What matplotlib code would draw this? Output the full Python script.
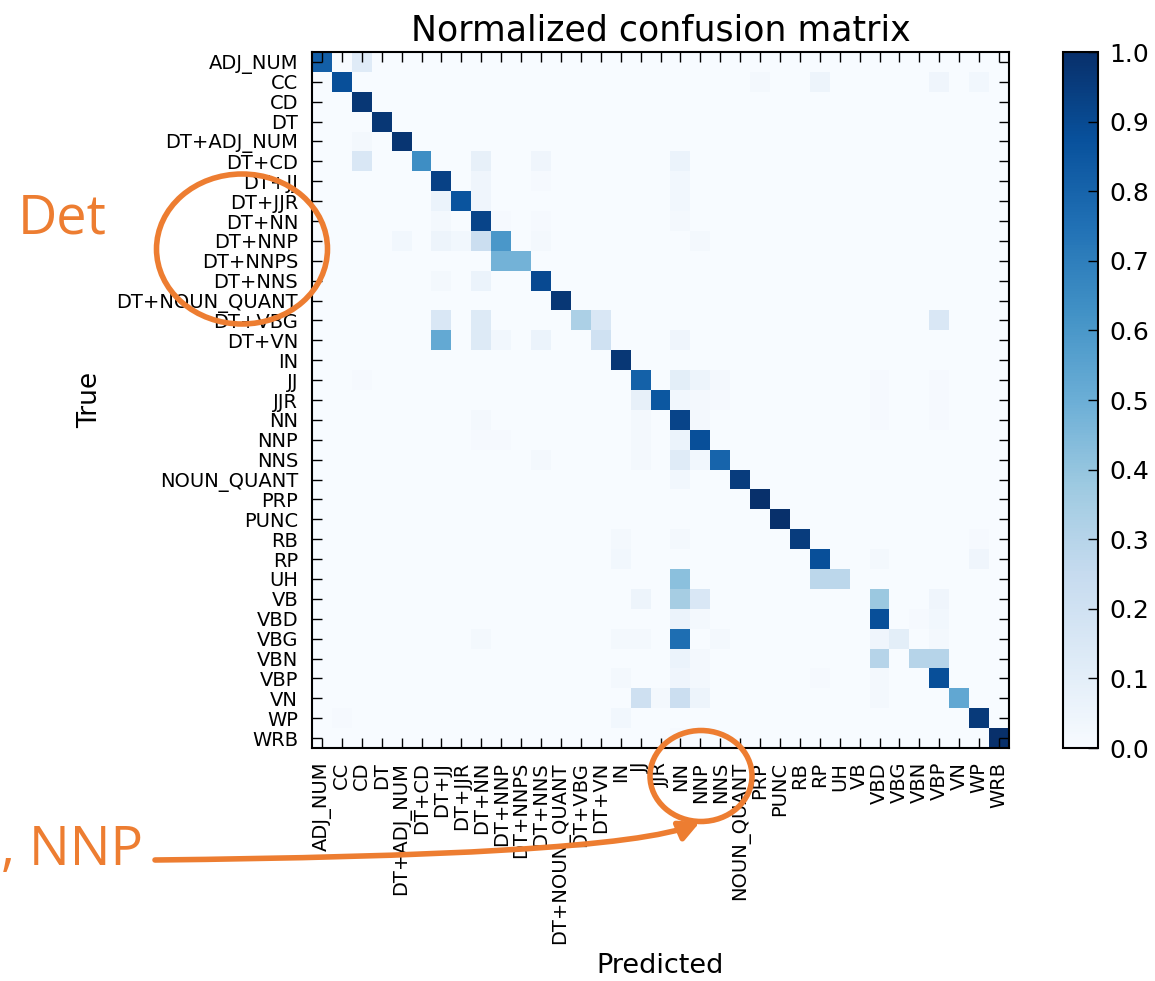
import numpy as np
import matplotlib
matplotlib.use("Agg")
import matplotlib.pyplot as plt
from matplotlib.patches import Ellipse, FancyArrowPatch
from matplotlib.path import Path

# ---------------- data ----------------
classes = ["ADJ_NUM", "CC", "CD", "DT", "DT+ADJ_NUM", "DT+CD", "DT+JJ", "DT+JJR",
           "DT+NN", "DT+NNP", "DT+NNPS", "DT+NNS", "DT+NOUN_QUANT", "DT+VBG", "DT+VN",
           "IN", "JJ", "JJR", "NN", "NNP", "NNS", "NOUN_QUANT", "PRP", "PUNC", "RB",
           "RP", "UH", "VB", "VBD", "VBG", "VBN", "VBP", "VN", "WP", "WRB"]

# normalized rate for each true class -> predicted class (all others are 0)
rates = {
    "ADJ_NUM":       {"ADJ_NUM": 0.82, "CD": 0.12},
    "CC":            {"CC": 0.88, "PRP": 0.02, "RP": 0.05, "VBP": 0.04, "WP": 0.03},
    "CD":            {"CD": 0.97},
    "DT":            {"DT": 0.97},
    "DT+ADJ_NUM":    {"DT+ADJ_NUM": 0.98, "CD": 0.02},
    "DT+CD":         {"DT+CD": 0.64, "CD": 0.15, "DT+NN": 0.08, "DT+NNS": 0.04, "NN": 0.06},
    "DT+JJ":         {"DT+JJ": 0.93, "DT+NN": 0.04, "DT+NNS": 0.01, "NN": 0.03},
    "DT+JJR":        {"DT+JJR": 0.86, "DT+JJ": 0.06, "DT+NN": 0.04, "NN": 0.03},
    "DT+NN":         {"DT+NN": 0.92, "DT+JJ": 0.02, "DT+NNP": 0.01, "DT+NNS": 0.01, "NN": 0.02},
    "DT+NNP":        {"DT+NNP": 0.60, "DT+NN": 0.22, "DT+JJ": 0.05, "DT+JJR": 0.03,
                      "DT+ADJ_NUM": 0.03, "DT+NNS": 0.02, "NNP": 0.02},
    "DT+NNPS":       {"DT+NNP": 0.48, "DT+NNPS": 0.48},
    "DT+NNS":        {"DT+NNS": 0.90, "DT+NN": 0.06, "DT+JJ": 0.02},
    "DT+NOUN_QUANT": {"DT+NOUN_QUANT": 0.97},
    "DT+VBG":        {"DT+VBG": 0.33, "DT+VN": 0.15, "DT+JJ": 0.15, "DT+NN": 0.13, "VBP": 0.15},
    "DT+VN":         {"DT+JJ": 0.52, "DT+NN": 0.13, "DT+NNP": 0.03, "DT+NNS": 0.06,
                      "DT+VN": 0.20, "NN": 0.04},
    "IN":            {"IN": 0.97},
    "JJ":            {"JJ": 0.81, "CD": 0.01, "NN": 0.10, "NNP": 0.05, "NNS": 0.02,
                      "VBD": 0.01, "VBP": 0.01},
    "JJR":           {"JJR": 0.85, "JJ": 0.08, "NN": 0.03, "NNP": 0.02, "NNS": 0.01,
                      "VBD": 0.01, "VBP": 0.01},
    "NN":            {"NN": 0.92, "DT+NN": 0.02, "JJ": 0.02, "NNP": 0.02, "VBD": 0.01, "VBP": 0.01},
    "NNP":           {"NNP": 0.88, "NN": 0.06, "JJ": 0.02, "DT+NN": 0.01, "DT+NNP": 0.01},
    "NNS":           {"NNS": 0.80, "NN": 0.12, "NNP": 0.03, "JJ": 0.02, "DT+NNS": 0.02},
    "NOUN_QUANT":    {"NOUN_QUANT": 0.95, "NN": 0.03},
    "PRP":           {"PRP": 1.00},
    "PUNC":          {"PUNC": 1.00},
    "RB":            {"RB": 0.95, "IN": 0.02, "NN": 0.02, "WP": 0.01},
    "RP":            {"RP": 0.88, "IN": 0.03, "VBD": 0.02, "WP": 0.04},
    "UH":            {"NN": 0.42, "RP": 0.28, "UH": 0.28},
    "VB":            {"NN": 0.35, "NNP": 0.15, "VBD": 0.38, "VBP": 0.04, "JJ": 0.05},
    "VBD":           {"VBD": 0.88, "NN": 0.06, "NNP": 0.02, "VBN": 0.01, "VBP": 0.03},
    "VBG":           {"NN": 0.76, "VBD": 0.04, "VBG": 0.10, "DT+NN": 0.02, "IN": 0.02,
                      "JJ": 0.02, "NNS": 0.02, "VBP": 0.02},
    "VBN":           {"VBD": 0.30, "VBN": 0.30, "VBP": 0.30, "NN": 0.06, "NNP": 0.02},
    "VBP":           {"VBP": 0.88, "NN": 0.04, "NNP": 0.02, "RP": 0.01, "VBD": 0.02, "IN": 0.02},
    "VN":            {"VN": 0.53, "JJ": 0.21, "NN": 0.22, "NNP": 0.05, "JJR": 0.02, "VBD": 0.02},
    "WP":            {"WP": 0.96, "IN": 0.03, "CC": 0.01},
    "WRB":           {"WRB": 1.00, "NN": 0.01},
}

colorbar_ticks = [0.0, 0.1, 0.2, 0.3, 0.4, 0.5, 0.6, 0.7, 0.8, 0.9, 1.0]

title = "Normalized confusion matrix"
x_title = "Predicted"
y_title = "True"
note_det = "Det"
note_nnp = ", NNP"

# ---------------- build matrix ----------------
idx = {c: i for i, c in enumerate(classes)}
n = len(classes)
cm = np.zeros((n, n))
for t, row in rates.items():
    for p, v in row.items():
        cm[idx[t], idx[p]] = v

# ---------------- figure ----------------
W, H = 1155, 981
fig = plt.figure(figsize=(W / 100, H / 100), dpi=100)
plt.rcParams["font.family"] = ["DejaVu Sans"]

ax = fig.add_axes([312 / W, 1 - 748 / H, 697 / W, 696 / H])
im = ax.imshow(cm, cmap="Blues", vmin=0, vmax=1, interpolation="nearest", aspect="auto")
ax.set_xticks(range(n))
ax.set_yticks(range(n))
ax.set_xticklabels(classes, rotation=90)
ax.set_yticklabels(classes)
ax.tick_params(direction="in", top=True, right=True, length=7.5, width=1,
               labelsize=14, pad=10, colors="black")
for s in ax.spines.values():
    s.set_linewidth(1.5)

ax.set_title(title, fontsize=25, pad=8.4)
ax.set_xlabel(x_title, fontsize=19.5)
ax.xaxis.set_label_coords(0.5, -0.2945)
ax.set_ylabel(y_title, fontsize=19)
ax.yaxis.set_label_coords(-0.300, 0.5)

cax = fig.add_axes([1063 / W, 1 - 748 / H, 35 / W, 696 / H])
cb = fig.colorbar(im, cax=cax, ticks=colorbar_ticks)
cb.ax.set_yticklabels([f"{t:.1f}" for t in colorbar_ticks])
cb.ax.tick_params(direction="in", length=7.5, width=1, labelsize=18, pad=8)
cb.outline.set_linewidth(1.5)

# ---------------- orange annotations (overlay in pixel coords) ----------------
orange = "#ED7D31"
ov = fig.add_axes([0, 0, 1, 1], zorder=10)
ov.set_xlim(0, W)
ov.set_ylim(H, 0)
ov.axis("off")
ov.patch.set_alpha(0)

ov.add_patch(Ellipse((242, 249), 171, 150, fill=False, ec=orange, lw=4))
ov.add_patch(Ellipse((701, 776), 102, 91, fill=False, ec=orange, lw=4))
ov.text(18, 233, note_det, fontsize=39, family=["Open Sans", "DejaVu Sans"],
        color=orange, ha="left", va="baseline")
ov.text(143, 865, note_nnp, fontsize=39, family=["Open Sans", "DejaVu Sans"],
        color=orange, ha="right", va="baseline")

arrow_path = Path([(155, 860), (430, 857), (640, 848), (700, 822)],
                  [Path.MOVETO, Path.CURVE4, Path.CURVE4, Path.CURVE4])
ov.add_patch(FancyArrowPatch(path=arrow_path, arrowstyle="-|>,head_length=0.6,head_width=0.3",
                             mutation_scale=20, color=orange, lw=4))

fig.savefig("out.png", dpi=100)
